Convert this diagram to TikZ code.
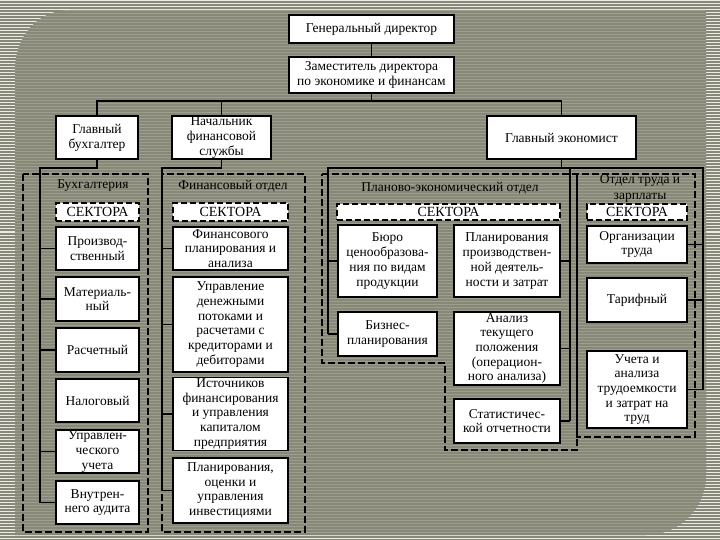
\documentclass[tikz,border=0pt]{standalone}
\usepackage{fontspec}
\setmainfont{Liberation Serif}
\definecolor{bgc}{RGB}{136,136,120}
\definecolor{outstripe}{RGB}{236,236,230}
\definecolor{instripe}{RGB}{158,158,143}
\begin{document}
\begin{tikzpicture}[x=1pt,y=-1pt,
  box/.style={draw=black, line width=1.3pt, fill=white, inner sep=1pt, align=center,
    font=\fontsize{13.5}{14.7}\selectfont},
  sect/.style={draw=black, line width=1.3pt, fill=white, dash pattern=on 6pt off 3pt,
    inner sep=0pt, font=\fontsize{14}{15}\selectfont},
  dbox/.style={draw=black, line width=1.4pt, dash pattern=on 7pt off 3pt},
  lbl/.style={inner sep=0pt, align=center, font=\fontsize{13.5}{16}\selectfont},
  conn/.style={draw=black, line width=1.2pt}]
\useasboundingbox (0,0) rectangle (720,540);
% background
\fill[bgc] (0,0) rectangle (720,540);
\foreach \y in {1,4,...,540} \draw[outstripe, line width=1pt] (0,\y) -- (720,\y);
\path[fill=bgc] (15,535) -- (15,70) .. controls (15,37) and (37,10) .. (70,10) -- (706,10)
  -- (706,475) .. controls (706,508) and (679,535) .. (646,535) -- cycle;
\begin{scope}
\clip (15,535) -- (15,70) .. controls (15,37) and (37,10) .. (70,10) -- (706,10)
  -- (706,475) .. controls (706,508) and (679,535) .. (646,535) -- cycle;
\foreach \y in {1,4,...,540} \draw[instripe, line width=0.8pt] (0,\y) -- (720,\y);
\end{scope}

% dashed department areas
\draw[dbox] (23,174) rectangle (148,532);
\draw[dbox] (162,174) rectangle (305,532);
\draw[dbox] (322,174) -- (577,174) -- (577,450) -- (445,450) -- (445,363) -- (322,363) -- cycle;
\draw[dbox] (577,174) rectangle (695,437);

% top level
\node[box, minimum width=165, minimum height=28] (gd) at (371.5,29) {Генеральный директор};
\node[box, minimum width=165, minimum height=36] (zam) at (371.5,75) {Заместитель директора\\по экономике и финансам};
\node[box, minimum width=82, minimum height=43] (gb) at (97,137.5) {Главный\\бухгалтер};
\node[box, minimum width=99, minimum height=43] (nfs) at (221.5,137.5) {Начальник\\финансовой\\службы};
\node[box, minimum width=149, minimum height=43] (ge) at (561.5,137.5) {Главный экономист};

% department labels
\node[lbl] (lbuh) at (93,186) {Бухгалтерия};
\node[lbl] (lfin) at (233,186) {Финансовый отдел};
\node[lbl] (lplan) at (450,188) {Планово-экономический отдел};
\node[lbl, font=\fontsize{13.5}{16.5}\selectfont] (ltr) at (640,188.5) {Отдел труда и\\зарплаты};

% sector headers
\node[sect, minimum width=83, minimum height=18] (bs) at (97.5,212) {СЕКТОРА};
\node[sect, minimum width=115, minimum height=18] (fs) at (230.5,212) {СЕКТОРА};
\node[sect, minimum width=223, minimum height=16] (ps) at (448.5,212) {СЕКТОРА};
\node[sect, minimum width=100, minimum height=16] (ts) at (637,212) {СЕКТОРА};

% accounting sectors
\node[box, minimum width=83, minimum height=43] (b1) at (97.5,248.5) {Производ-\\ственный};
\node[box, minimum width=83, minimum height=44] (b2) at (97.5,299) {Материаль-\\ный};
\node[box, minimum width=83, minimum height=44] (b3) at (97.5,350) {Расчетный};
\node[box, minimum width=83, minimum height=43] (b4) at (97.5,400.5) {Налоговый};
\node[box, minimum width=83, minimum height=43] (b5) at (97.5,451.5) {Управлен-\\ческого\\учета};
\node[box, minimum width=83, minimum height=43] (b6) at (97.5,502.5) {Внутрен-\\него аудита};

% finance sectors
\node[box, minimum width=115, minimum height=43] (f1) at (230.5,248.5) {Финансового\\планирования и\\анализа};
\node[box, minimum width=115, minimum height=95] (f2) at (230.5,324.5) {Управление\\денежными\\потоками и\\расчетами с\\кредиторами и\\дебиторами};
\node[box, minimum width=115, minimum height=72] (f3) at (230.5,414) {Источников\\финансирования\\и управления\\капиталом\\предприятия};
\node[box, minimum width=115, minimum height=65] (f4) at (230.5,490.5) {Планирования,\\оценки и\\управления\\инвестициями};

% planning sectors
\node[box, minimum width=99, minimum height=72] (p1) at (387.5,261) {Бюро\\ценообразова-\\ния по видам\\продукции};
\node[box, minimum width=106, minimum height=72] (p2) at (507,261) {Планирования\\производствен-\\ной деятель-\\ности и затрат};
\node[box, minimum width=99, minimum height=44] (p3) at (387.5,334) {Бизнес-\\планирования};
\node[box, minimum width=106, minimum height=73] (p4) at (507,348.5) {Анализ\\текущего\\положения\\(операцион-\\ного анализа)};
\node[box, minimum width=106, minimum height=44] (p5) at (507,421) {Статистичес-\\кой отчетности};

% labour sectors
\node[box, minimum width=100, minimum height=37] (t1) at (637,244.5) {Организации\\труда};
\node[box, minimum width=100, minimum height=44] (t2) at (637,300) {Тарифный};
\node[box, minimum width=100, minimum height=77] (t3) at (637,389.5) {Учета и\\анализа\\трудоемкости\\и затрат на\\труд};

% connectors: top
\coordinate (bar) at (0,101);
\draw[conn] (gd.south) -- (zam.north);
\draw[conn] (zam.south) -- (zam.south |- bar);
\draw[conn] (gb.north) -- (gb.north |- bar) -- (ge.north |- bar) -- (ge.north);
\draw[conn] (nfs.north) -- (nfs.north |- bar);

% accounting spine
\coordinate (bsp) at (40,168);
\draw[conn] (gb.south) |- (bsp) -- (bsp |- b6.west);
\foreach \n in {b1,b2,b3,b5,b6} \draw[conn] (bsp |- \n.west) -- (\n.west);

% finance spine
\coordinate (fsp) at (162,168);
\draw[conn] (nfs.south) |- (fsp) -- (fsp |- f4.west);
\foreach \n in {f1,f2,f3,f4} \draw[conn] (fsp |- \n.west) -- (\n.west);

% economist spines
\coordinate (psp) at (328,168);
\coordinate (qsp) at (570,168);
\coordinate (tsp) at (703,168);
\draw[conn] (ge.south) -- (ge.south |- psp);
\draw[conn] (psp |- p3.west) -- (psp) -- (tsp) -- (tsp |- t3.east);
\draw[conn] (qsp) -- (qsp |- p5.east);
\foreach \n in {p1,p3} \draw[conn] (psp |- \n.west) -- (\n.west);
\foreach \n in {p2,p4,p5} \draw[conn] (\n.east) -- (qsp |- \n.east);
\foreach \n in {t1,t2,t3} \draw[conn] (\n.east) -- (tsp |- \n.east);
\end{tikzpicture}
\end{document}
